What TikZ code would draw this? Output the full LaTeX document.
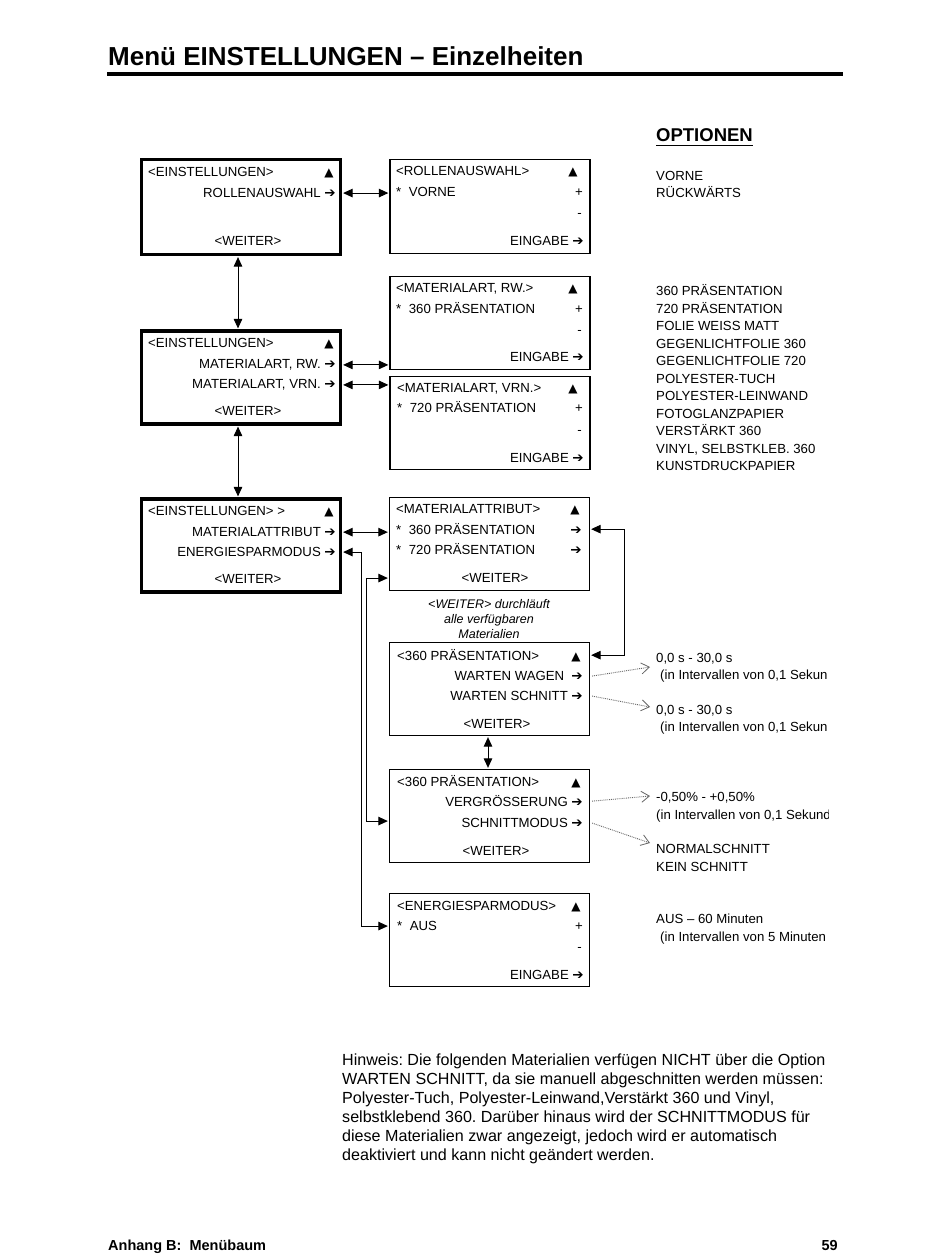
\documentclass[tikz,border=0pt]{standalone}
\usepackage{fontspec}
\setmainfont{Liberation Sans}
\newfontfamily\symf{DejaVu Sans}
\usetikzlibrary{arrows.meta,calc}
\newcommand{\rarr}{{\symf\fontsize{13.5}{13.5}\selectfont ➔}}
\newcommand{\uptri}{{\symf\fontsize{12}{12}\selectfont ▲}}
\frenchspacing
\begin{document}
\begin{tikzpicture}[x=1pt,y=-1pt,
  lbox/.style={draw, line width=3.2pt, inner sep=0pt, minimum width=199pt},
  rbox/.style={draw, line width=1.3pt, inner sep=0pt, minimum width=200pt},
  txt/.style={inner sep=0pt, font=\fontsize{13.2}{15.6}\selectfont},
  ital/.style={inner sep=0pt, font=\itshape\fontsize{12.5}{15}\selectfont},
  note/.style={inner sep=0pt, anchor=base west, font=\fontsize{16.1}{19}\selectfont},
  dbl/.style={line width=1pt, {Triangle[length=9.5pt,width=8.5pt]}-{Triangle[length=9.5pt,width=8.5pt]}, shorten <=1pt, shorten >=1pt},
  dotarr/.style={draw=black!60, densely dotted, line width=0.9pt, -{Straight Barb[length=8pt,width=11pt,line width=0.8pt]}}
]
\useasboundingbox (0,0) rectangle (950,1260);
\fill[white] (0,0) rectangle (950,1260);

% title
\node[inner sep=0pt, anchor=base west, font=\bfseries\fontsize{26}{30}\selectfont] (title) at (108,66) {Menü EINSTELLUNGEN – Einzelheiten};
\draw[line width=4pt] (107,74.5) -- (843,74.5);

% ---------- left column ----------
\node[lbox, minimum height=95pt] (L1) at (241,207) {};
\node[txt, anchor=base west] (l1a) at (148,176.6) {<EINSTELLUNGEN>};
\node[txt, anchor=base] (l1u) at (329,176.6) {\uptri};
\node[txt, anchor=base east] (l1b) at (336,197.6) {ROLLENAUSWAHL \rarr};
\node[txt, anchor=base] (l1c) at (248,245.6) {<WEITER>};

\node[lbox, minimum height=93pt] (L2) at (241,377.5) {};
\node[txt, anchor=base west] (l2a) at (148,347.6) {<EINSTELLUNGEN>};
\node[txt, anchor=base] (l2u) at (329,347.6) {\uptri};
\node[txt, anchor=base east] (l2b) at (336,368.6) {MATERIALART, RW. \rarr};
\node[txt, anchor=base east] (l2c) at (336,388.6) {MATERIALART, VRN. \rarr};
\node[txt, anchor=base] (l2d) at (248,415.6) {<WEITER>};

\node[lbox, minimum height=93pt] (L3) at (241,545.5) {};
\node[txt, anchor=base west] (l3a) at (148,515.6) {<EINSTELLUNGEN> >};
\node[txt, anchor=base] (l3u) at (329,515.6) {\uptri};
\node[txt, anchor=base east] (l3b) at (336,536.6) {MATERIALATTRIBUT \rarr};
\node[txt, anchor=base east] (l3c) at (336,556.6) {ENERGIESPARMODUS \rarr};
\node[txt, anchor=base] (l3d) at (248,583.6) {<WEITER>};

% ---------- right column boxes ----------
\node[rbox, minimum height=94pt] (R1) at (490,206.5) {};
\node[txt, anchor=base west] (r1a) at (396,175.6) {<ROLLENAUSWAHL>};
\node[txt, anchor=base] (r1u) at (573,175.6) {\uptri};
\node[txt, anchor=base west] (r1b) at (396,196.6) {*\hspace{7.5pt}VORNE};
\node[txt, anchor=base east] (r1p) at (583,196.6) {+};
\node[txt, anchor=base east] (r1m) at (582,217) {-};
\node[txt, anchor=base east] (r1c) at (584,245.6) {EINGABE \rarr};

\node[rbox, minimum height=93pt] (R2) at (490,323) {};
\node[txt, anchor=base west] (r2a) at (396,292.6) {<MATERIALART, RW.>};
\node[txt, anchor=base] (r2u) at (573,292.6) {\uptri};
\node[txt, anchor=base west] (r2b) at (396,313.6) {*\hspace{7.5pt}360 PRÄSENTATION};
\node[txt, anchor=base east] (r2p) at (583,313.6) {+};
\node[txt, anchor=base east] (r2m) at (582,334) {-};
\node[txt, anchor=base east] (r2c) at (584,361.6) {EINGABE \rarr};

\node[rbox, minimum height=93pt] (R3) at (490,423) {};
\node[txt, anchor=base west] (r3a) at (397,392.6) {<MATERIALART, VRN.>};
\node[txt, anchor=base] (r3u) at (573,392.6) {\uptri};
\node[txt, anchor=base west] (r3b) at (397,412.6) {*\hspace{7.5pt}720 PRÄSENTATION};
\node[txt, anchor=base east] (r3p) at (583,412.6) {+};
\node[txt, anchor=base east] (r3m) at (582,434) {-};
\node[txt, anchor=base east] (r3c) at (584,462.6) {EINGABE \rarr};

\node[rbox, minimum height=93pt] (R4) at (489.5,544) {};
\node[txt, anchor=base west] (r4a) at (396,513.6) {<MATERIALATTRIBUT>};
\node[txt, anchor=base] (r4u) at (575,513.6) {\uptri};
\node[txt, anchor=base west] (r4b) at (396,534.6) {*\hspace{7.5pt}360 PRÄSENTATION};
\node[txt, anchor=base east] (r4br) at (582,534.6) {\rarr};
\node[txt, anchor=base west] (r4c) at (396,554.6) {*\hspace{7.5pt}720 PRÄSENTATION};
\node[txt, anchor=base east] (r4cr) at (582,554.6) {\rarr};
\node[txt, anchor=base] (r4d) at (495,582.6) {<WEITER>};

\node[ital, anchor=base] (cap1) at (489,608.5) {<WEITER> durchläuft};
\node[ital, anchor=base] (cap2) at (489,623.5) {alle verfügbaren};
\node[ital, anchor=base] (cap3) at (489,638.5) {Materialien};

\node[rbox, minimum height=93pt] (R5) at (489.5,689) {};
\node[txt, anchor=base west] (r5a) at (397,660.6) {<360 PRÄSENTATION>};
\node[txt, anchor=base] (r5u) at (576,660.6) {\uptri};
\node[txt, anchor=base east] (r5b) at (583,680.6) {WARTEN WAGEN\ \ \rarr};
\node[txt, anchor=base east] (r5c) at (583,700.6) {WARTEN SCHNITT \rarr};
\node[txt, anchor=base] (r5d) at (497,728.6) {<WEITER>};

\node[rbox, minimum height=93pt] (R6) at (489.5,816) {};
\node[txt, anchor=base west] (r6a) at (397,786.6) {<360 PRÄSENTATION>};
\node[txt, anchor=base] (r6u) at (576,786.6) {\uptri};
\node[txt, anchor=base east] (r6b) at (583,806.6) {VERGRÖSSERUNG \rarr};
\node[txt, anchor=base east] (r6c) at (583,827.6) {SCHNITTMODUS \rarr};
\node[txt, anchor=base] (r6d) at (496,855.6) {<WEITER>};

\node[rbox, minimum height=93pt] (R7) at (489.5,940) {};
\node[txt, anchor=base west] (r7a) at (397,910.6) {<ENERGIESPARMODUS>};
\node[txt, anchor=base] (r7u) at (576,910.6) {\uptri};
\node[txt, anchor=base west] (r7b) at (397,930.6) {*\hspace{7.5pt}AUS};
\node[txt, anchor=base east] (r7p) at (583,930.6) {+};
\node[txt, anchor=base east] (r7m) at (582,951) {-};
\node[txt, anchor=base east] (r7c) at (584,979.6) {EINGABE \rarr};

% ---------- connectors ----------
\draw[dbl] (L1.east |- l1b) -- (R1.west |- l1b);
\draw[dbl] (L2.east |- l2b) -- (R2.west |- l2b);
\draw[dbl] (L2.east |- l2c) -- (R3.west |- l2c);
\draw[dbl] (L3.east |- l3b) -- (R4.west |- l3b);
\draw[dbl] ([xshift=-3pt]L1.south) -- ([xshift=-3pt]L2.north);
\draw[dbl] ([xshift=-3pt]L2.south) -- ([xshift=-3pt]L3.north);
\draw[dbl] ([xshift=-1.5pt]R5.south) -- ([xshift=-1.5pt]R6.north);
\draw[dbl] (R4.east |- r4b) -- ++(34,0) |- (R5.east |- r5a);
\draw[dbl] (L3.east |- l3c) -- ++(19,0) |- (R7.west |- r7b);
\draw[dbl] (R4.west |- r4d) -- ++(-22,0) |- ([yshift=2pt]R6.west |- r6c);

% ---------- options ----------
\node[inner sep=0pt, anchor=base west, font=\bfseries\fontsize{18.5}{22}\selectfont] (opt) at (656,142) {OPTIONEN};
\draw[line width=1.4pt] (opt.base west) ++(0,3.5) -- ($(opt.base east)+(0,3.5)$);
\node[txt, anchor=base west] (o1) at (656,180.6) {VORNE};
\node[txt, anchor=base west] (o2) at (656,197.6) {RÜCKWÄRTS};
\foreach \t [count=\i from 0] in {360 PRÄSENTATION, 720 PRÄSENTATION, FOLIE WEISS MATT, GEGENLICHTFOLIE 360, GEGENLICHTFOLIE 720, POLYESTER-TUCH, POLYESTER-LEINWAND, FOTOGLANZPAPIER, VERSTÄRKT 360, {VINYL, SELBSTKLEB. 360}, KUNSTDRUCKPAPIER}
  \node[txt, anchor=base west] (m\i) at (656,295.6+17.5*\i) {\t};

\begin{scope}
\clip (640,640) rectangle (828.5,960);
\node[txt, anchor=base west] (w1) at (656,662.6) {0,0 s - 30,0 s};
\node[txt, anchor=base west] (w2) at (660,679.6) {(in Intervallen von 0,1 Sekun};
\node[txt, anchor=base west] (s1) at (656,714.6) {0,0 s - 30,0 s};
\node[txt, anchor=base west] (s2) at (660,731.6) {(in Intervallen von 0,1 Sekun};
\node[txt, anchor=base west] (v1) at (656,801.6) {-0,50\% - +0,50\%};
\node[txt, anchor=base west] (v2) at (656,819.6) {(in Intervallen von 0,1 Sekund};
\node[txt, anchor=base west] (n1) at (656,853.6) {NORMALSCHNITT};
\node[txt, anchor=base west] (n2) at (656,871.6) {KEIN SCHNITT};
\node[txt, anchor=base west] (e1) at (656,923.6) {AUS – 60 Minuten};
\node[txt, anchor=base west] (e2) at (660,941.6) {(in Intervallen von 5 Minuten};
\end{scope}

\coordinate (d1) at (650,667);
\coordinate (d2) at (650,707);
\coordinate (d3) at (650,796);
\coordinate (d4) at (650,843);
\draw[dotarr] ([xshift=2pt]R5.east |- r5b) -- (d1);
\draw[dotarr] ([xshift=2pt]R5.east |- r5c) -- (d2);
\draw[dotarr] ([xshift=2pt]R6.east |- r6b) -- (d3);
\draw[dotarr] ([xshift=2pt]R6.east |- r6c) -- (d4);

% ---------- note ----------
\node[note] (h1) at (342,1065) {Hinweis: Die folgenden Materialien verfügen NICHT über die Option};
\node[note] (h2) at (342,1084) {WARTEN SCHNITT, da sie manuell abgeschnitten werden müssen:};
\node[note] (h3) at (342,1103) {Polyester-Tuch, Polyester-Leinwand,Verstärkt 360 und Vinyl,};
\node[note] (h4) at (342,1122) {selbstklebend 360. Darüber hinaus wird der SCHNITTMODUS für};
\node[note] (h5) at (342,1141) {diese Materialien zwar angezeigt, jedoch wird er automatisch};
\node[note] (h6) at (342,1160) {deaktiviert und kann nicht geändert werden.};

% ---------- footer ----------
\node[inner sep=0pt, anchor=base west, font=\bfseries\fontsize{14.5}{17}\selectfont] (foot) at (108,1250) {Anhang B:\ \ Menübaum};
\node[inner sep=0pt, anchor=base east, font=\bfseries\fontsize{14.5}{17}\selectfont] (page) at (838,1250) {59};
\end{tikzpicture}
\end{document}
